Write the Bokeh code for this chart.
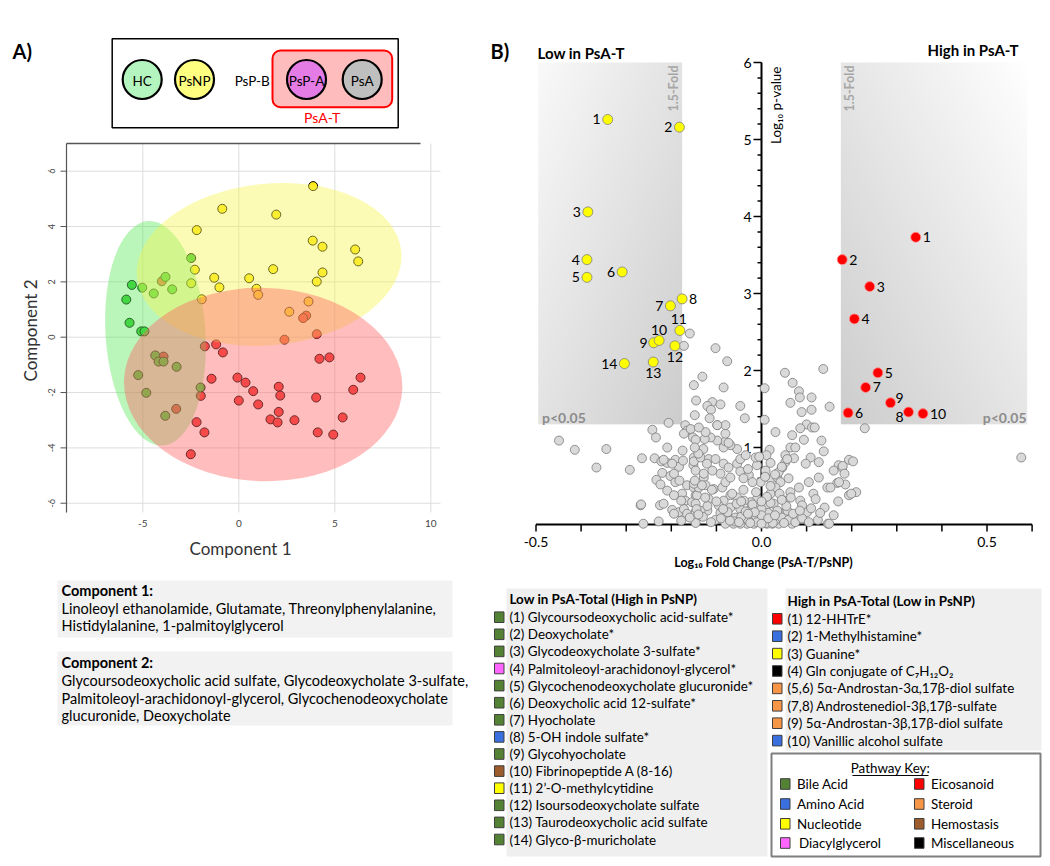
import numpy as np
from bokeh.plotting import figure
from bokeh.layouts import row, column
from bokeh.models import Range1d, BoxAnnotation
from bokeh.core.properties import value
from bokeh.embed import file_html
from bokeh.resources import INLINE

FONT = "Lato"

# ---------------- data : panel A ----------------
group_names = ["HC", "PsNP", "PsP-A", "PsA"]
group_colors = ["#b4f5bf", "#ffff80", "#e57ce5", "#bfbfbf"]

hc_x = [-2.48, -3.82, -5.57, -5.03, -3.47, -4.43, -5.86, -5.69, -5.08, -4.91,
        -4.35, -4.18, -3.92, -3.24, -5.24, -4.82, -1.99, -3.83]
hc_y = [2.86, 2.18, 1.89, 1.79, 1.73, 1.58, 1.36, 0.52, 0.21, 0.21,
        -0.66, -0.88, -0.88, -1.07, -1.37, -2.01, -1.82, -2.84]
psnp_x = [3.87, -0.86, 1.95, -2.19, 3.85, 4.36, 6.06, 6.22, 1.79, 4.36, 4.06,
          -2.29, -2.48, -1.28, -1.01, 0.54, 0.92, 1.01, -1.93, 3.63, 2.63]
psnp_y = [5.46, 4.64, 4.43, 3.87, 3.49, 3.27, 3.17, 2.74, 2.46, 2.34, 2.01,
          2.44, 1.95, 2.15, 1.80, 2.13, 1.75, 1.53, 1.37, 1.29, 0.92]
psat_x = [-4.01, 3.51, 3.35, 4.06, 2.38, -1.77, -1.18, -0.83, -3.92, 4.20,
          4.72, -1.42, -0.07, 0.35, 0.75, 2.08, 2.16, -1.98, 4.03, 6.34,
          5.96, 0.00, 1.01, -3.26, 2.08, 1.65, 2.02, 2.90, 5.41, -2.20,
          -1.79, 4.11, 4.92, -2.50]
psat_y = [2.02, 0.78, 0.69, 0.11, -0.09, -0.33, -0.26, -0.55, -0.70, -0.78,
          -0.73, -1.50, -1.46, -1.64, -1.95, -1.79, -2.11, -2.12, -2.18, -1.46,
          -1.90, -2.29, -2.43, -2.59, -2.70, -2.97, -3.08, -3.00, -2.90, -3.07,
          -3.44, -3.44, -3.52, -4.23]

# confidence ellipses (HC, PsNP, PsA-T)
ell_x = [-4.34, 1.58, 1.27]
ell_y = [0.14, 2.63, -1.71]
ell_w = [5.2, 13.84, 14.5]
ell_h = [8.13, 5.84, 6.99]
ell_angle = [0.066, 0.10, -0.03]

pca_x_ticks = [-5, 0, 5, 10]
pca_y_ticks = [-6, -4, -2, 0, 2, 4, 6]

comp1_lines = ["Linoleoyl ethanolamide, Glutamate, Threonylphenylalanine,",
               "Histidylalanine, 1-palmitoylglycerol"]
comp2_lines = ["Glycoursodeoxycholic acid sulfate, Glycodeoxycholate 3-sulfate,",
               "Palmitoleoyl-arachidonoyl-glycerol, Glycochenodeoxycholate",
               "glucuronide, Deoxycholate"]

# ---------------- data : panel B ----------------
low_x = [-0.341, -0.182, -0.385, -0.387, -0.387, -0.309, -0.202, -0.176,
         -0.239, -0.227, -0.181, -0.192, -0.240, -0.304]
low_y = [5.26, 5.16, 4.06, 3.44, 3.21, 3.28, 2.84, 2.93,
         2.36, 2.39, 2.52, 2.32, 2.11, 2.09]
low_labels = [str(i) for i in range(1, 15)]

high_x = [0.342, 0.179, 0.240, 0.206, 0.258, 0.192, 0.231, 0.326, 0.286, 0.358]
high_y = [3.73, 3.44, 3.09, 2.67, 1.97, 1.45, 1.78, 1.46, 1.58, 1.44]
high_labels = [str(i) for i in range(1, 11)]

other_x = [
    -0.150, -0.145, -0.148, -0.206, -0.169, -0.165, -0.172, -0.157, -0.152, -0.242,
    -0.234, -0.449, -0.414, -0.344, -0.209, -0.175, -0.366, -0.292, -0.265, -0.237,
    -0.222, -0.209, -0.191, -0.183, -0.220, -0.233, -0.224, -0.202, -0.191, -0.165,
    -0.176, -0.169, -0.154, -0.150, -0.146, -0.268, -0.225, -0.217, -0.198, -0.183,
    -0.172, -0.194, -0.165, -0.146, -0.262, -0.228, -0.146, -0.150, -0.151,
    -0.159, -0.172, -0.102, -0.076, -0.131, -0.084, -0.109, -0.120, -0.112, -0.091,
    -0.047, -0.037, -0.115, -0.098, 0.007, 0.007, 0.031,
    0.052, 0.069, 0.083, 0.085, 0.064, 0.111, 0.111, 0.089, 0.137, 0.151,
    0.100, 0.112, 0.118, 0.086, 0.068, 0.094, 0.133, 0.138, 0.064, 0.075,
    0.053, 0.072, 0.109, 0.127, 0.098, 0.194, 0.203, 0.171, 0.179, 0.160,
    0.146, 0.168, 0.186, 0.194, 0.210, 0.147, 0.101, 0.127, 0.105, 0.083,
    0.064, 0.086, 0.052, 0.057, 0.079, 0.068, 0.038, 0.024, 0.012, -0.017,
    -0.032, -0.047, -0.062, -0.080, -0.102,
    -0.143, -0.139, -0.117, -0.120, -0.146, -0.106, -0.087, -0.080, -0.069, -0.091,
    -0.109, -0.128, -0.146, -0.150, -0.135, -0.117, -0.102, -0.084, -0.073, -0.054,
    -0.047, -0.035, -0.054, -0.069, -0.084, -0.080, -0.098, -0.113, -0.126, -0.146,
    -0.080, -0.073, -0.080, -0.098, -0.124, -0.139, -0.129, -0.047, -0.028, -0.010,
    -0.013, 0.018, 0.011, 0.009, -0.002, 0.020, 0.035, 0.042, 0.053, 0.057,
    0.046, 0.038, 0.031, 0.020, 0.009, -0.010, -0.024, -0.039, -0.054, -0.069,
    -0.084, -0.095, -0.069, -0.047, -0.028, -0.010, 0.009, 0.027, 0.038, 0.020,
    -0.002, -0.021, -0.039, -0.058, -0.076, -0.091, -0.135, -0.150, -0.124,
    0.229, 0.576, 0.199, 0.180, 0.184, 0.172, 0.153, 0.150,
    -0.267, -0.217, -0.198, -0.174, -0.194, -0.182, -0.209, -0.194, -0.178, -0.178,
    -0.159, -0.144, -0.132, -0.148, -0.128, -0.121, -0.140, -0.148,
    -0.005, 0.005, -0.015, 0.015, -0.030, 0.030, -0.045, 0.045, 0.000, -0.020,
    0.020, 0.060, -0.060, 0.010, -0.010, 0.025, -0.025, 0.050, -0.050, 0.075,
    -0.070, 0.035, -0.035, 0.000, 0.012, -0.012, 0.055, -0.055, 0.070, -0.075,
    0.090, -0.090, 0.105, -0.112, 0.110, -0.120, 0.125, -0.130, 0.040, -0.040,
    0.020, -0.020, 0.065, -0.065, 0.090, -0.100, 0.115, -0.110, 0.030, -0.030,
    0.008, 0.045, -0.005, 0.020, -0.040, 0.060, 0.140, 0.160, -0.125, 0.120,
    -0.085, 0.085, 0.000, -0.045, 0.045, 0.015, -0.015, 0.030, -0.030, 0.000,
    0.130, -0.140, 0.170]
other_y = [
    1.81, 1.61, 1.42, 1.32, 1.29, 1.22, 1.18, 1.24, 1.13, 1.23,
    1.13, 1.09, 0.97, 0.98, 1.00, 0.96, 0.74, 0.71, 0.86, 0.86,
    0.82, 0.80, 0.84, 0.75, 0.67, 0.58, 0.52, 0.63, 0.55, 0.51,
    0.40, 0.31, 0.29, 0.48, 0.38, 0.25, 0.25, 0.27, 0.19, 0.16,
    0.20, 0.14, 0.14, 0.16, 0.01, 0.04, 0.02, 0.87, 0.77,
    2.48, 2.32, 2.29, 2.12, 1.92, 1.78, 1.59, 1.54, 1.49, 1.56,
    1.54, 1.38, 1.38, 1.29, 1.77, 1.36, 1.20,
    1.97, 1.84, 1.73, 1.65, 1.58, 1.65, 1.49, 1.46, 2.02, 1.53,
    1.30, 1.26, 1.26, 1.25, 1.16, 1.10, 1.09, 0.95, 1.00, 1.00,
    0.90, 0.86, 0.87, 0.81, 0.79, 0.84, 0.82, 0.77, 0.74, 0.70,
    0.48, 0.54, 0.52, 0.38, 0.42, 0.01, 0.16, 0.61, 0.55, 0.48,
    0.42, 0.31, 0.31, 0.18, 0.12, 0.01, 0.01, 0.01, 0.01, 0.01,
    0.01, 0.01, 0.01, 0.01, 0.06,
    0.38, 0.48, 0.33, 0.18, 0.27, 0.46, 0.48, 0.55, 0.61, 0.66,
    0.70, 0.61, 0.70, 0.82, 0.87, 0.85, 0.85, 0.79, 0.74, 0.79,
    0.85, 0.90, 0.98, 1.03, 1.00, 1.08, 1.09, 1.13, 1.11, 1.10,
    1.18, 1.06, 1.29, 1.29, 1.20, 1.26, 0.98, 0.69, 0.64, 0.77,
    0.87, 0.97, 0.90, 0.70, 0.55, 0.59, 0.61, 0.55, 0.81, 0.85,
    0.74, 0.68, 0.48, 0.40, 0.33, 0.33, 0.29, 0.31, 0.35, 0.38,
    0.31, 0.25, 0.22, 0.20, 0.18, 0.22, 0.22, 0.27, 0.16, 0.12,
    0.14, 0.09, 0.12, 0.09, 0.12, 0.15, 0.18, 0.53, 0.51,
    1.25, 0.87, 0.40, 0.76, 0.66, 0.55, 0.48, 0.01,
    0.26, 0.84, 0.79, 0.83, 0.66, 0.57, 0.44, 0.38, 0.31, 0.05,
    0.09, 0.20, 0.51, 0.57, 0.66, 0.79, 0.92, 1.00,
    0.05, 0.08, 0.12, 0.15, 0.06, 0.05, 0.10, 0.09, 0.20, 0.26,
    0.28, 0.06, 0.04, 0.02, 0.03, 0.02, 0.02, 0.02, 0.03, 0.03,
    0.05, 0.18, 0.17, 0.12, 0.36, 0.42, 0.24, 0.27, 0.14, 0.16,
    0.08, 0.08, 0.03, 0.03, 0.21, 0.24, 0.06, 0.10, 0.40, 0.45,
    0.50, 0.55, 0.35, 0.40, 0.25, 0.30, 0.40, 0.45, 0.65, 0.72,
    0.62, 0.75, 0.88, 0.80, 0.60, 0.60, 0.22, 0.12, 0.35, 0.33,
    0.20, 0.18, 0.30, 0.30, 0.32, 0.08, 0.16, 0.12, 0.14, 0.01,
    0.15, 0.13, 0.30]

fold_threshold = 0.176      # log10(1.5)
p_threshold = 1.301         # -log10(0.05)
vx_ticks = [-0.5, 0.0, 0.5]
vy_ticks = [1, 2, 3, 4, 5, 6]

low_names = ["(1) Glycoursodeoxycholic acid-sulfate*", "(2) Deoxycholate*",
             "(3) Glycodeoxycholate 3-sulfate*", "(4) Palmitoleoyl-arachidonoyl-glycerol*",
             "(5) Glycochenodeoxycholate glucuronide*", "(6) Deoxycholic acid 12-sulfate*",
             "(7) Hyocholate", "(8) 5-OH indole sulfate*", "(9) Glycohyocholate",
             "(10) Fibrinopeptide A (8-16)", "(11) 2\u2019-O-methylcytidine",
             "(12) Isoursodeoxycholate sulfate", "(13) Taurodeoxycholic acid sulfate",
             "(14) Glyco-\u03b2-muricholate"]
low_pathways = ["Bile Acid", "Bile Acid", "Bile Acid", "Diacylglycerol", "Bile Acid",
                "Bile Acid", "Bile Acid", "Amino Acid", "Bile Acid", "Hemostasis",
                "Nucleotide", "Bile Acid", "Bile Acid", "Bile Acid"]
high_names = ["(1) 12-HHTrE*", "(2) 1-Methylhistamine*", "(3) Guanine*",
              "(4) Gln conjugate of C\u2087H\u2081\u2082O\u2082",
              "(5,6) 5\u03b1-Androstan-3\u03b1,17\u03b2-diol sulfate",
              "(7,8) Androstenediol-3\u03b2,17\u03b2-sulfate",
              "(9) 5\u03b1-Androstan-3\u03b2,17\u03b2-diol sulfate",
              "(10) Vanillic alcohol sulfate"]
high_pathways = ["Eicosanoid", "Amino Acid", "Nucleotide", "Miscellaneous",
                 "Steroid", "Steroid", "Steroid", "Amino Acid"]
pathway_names = ["Bile Acid", "Amino Acid", "Nucleotide", "Diacylglycerol",
                 "Eicosanoid", "Steroid", "Hemostasis", "Miscellaneous"]
pathway_colors = ["#548235", "#3a6fdf", "#ffff00", "#ff66ff",
                  "#ff0000", "#f79646", "#9c5c2c", "#000000"]
pw_color = dict(zip(pathway_names, pathway_colors))

# page geometry (pixels)
W_LEFT, W_RIGHT = 470, 578
H_TOP, H_PCA, H_TEXT = 135, 425, 304
H_VOLC, H_LEG = 575, 289


# ---------------- helpers ----------------
def canvas(w, h, xr, yr):
    p = figure(width=w, height=h, x_range=Range1d(*xr), y_range=Range1d(*yr),
               toolbar_location=None, output_backend="svg", min_border=0,
               x_axis_location=None, y_axis_location=None, title=None)
    p.grid.visible = False
    p.outline_line_color = None
    return p


def txt(p, x, y, t, size="13px", style="normal", align="left", color="#000000",
        baseline="middle", angle=0.0):
    xs = list(x) if isinstance(x, (list, tuple, np.ndarray)) else [x]
    ys = list(y) if isinstance(y, (list, tuple, np.ndarray)) else [y]
    ts = list(t) if isinstance(t, (list, tuple)) else [t]
    n = max(len(xs), len(ys), len(ts))
    if len(xs) == 1:
        xs = xs * n
    if len(ys) == 1:
        ys = ys * n
    p.text(x=xs, y=ys, text=ts, text_font=value(FONT), text_font_size=size,
           text_font_style=style, text_align=align, text_baseline=baseline,
           text_color=color, angle=angle)


# ---------------- panel A : group key (pixel canvas) ----------------
ptop = canvas(W_LEFT, H_TOP, (0, W_LEFT), (H_TOP, 0))
txt(ptop, 12, 50, "A)", size="20px", style="bold")
ptop.quad(left=[111.7], right=[397.7], top=[38.3], bottom=[127.3],
          fill_color=None, line_color="black", line_width=1.5)
ptop.add_layout(BoxAnnotation(left=272, right=391.7, top=50, bottom=106.7,
                              fill_color="#ffbcbc", fill_alpha=1.0, line_color="#ff0000",
                              line_alpha=1.0, line_width=2, border_radius=8,
                              level="underlay"))
cx = [141.7, 194.0, 306.0, 361.7]
ptop.circle(x=cx, y=[79] * 4, radius=19.5, fill_color=group_colors,
            line_color="black", line_width=2.2)
txt(ptop, cx, [80] * 4, group_names, size="13.5px", align="center")
txt(ptop, 251.7, 80, "PsP-B", size="13.5px", align="center")
txt(ptop, 321.7, 116.5, "PsA-T", size="14px", align="center", color="#ff0000")


# ---------------- panel A : PCA scores ----------------
def ax_(X):
    return (X - 238.3) / 19.2


def ay_(Y):
    return (336.7 - Y) / 27.67


ppca = canvas(W_LEFT, H_PCA, (ax_(0), ax_(W_LEFT)), (ay_(H_TOP + H_PCA), ay_(H_TOP)))
fx0, fx1, fy0, fy1 = ax_(66), ax_(440), ay_(512), ay_(143)
ppca.segment(x0=pca_x_ticks, y0=[fy0] * 4, x1=pca_x_ticks, y1=[fy1] * 4,
             line_color="#dddddd", line_width=1)
ppca.segment(x0=[fx0] * 7, y0=pca_y_ticks, x1=[fx1] * 7, y1=pca_y_ticks,
             line_color="#dddddd", line_width=1)
ppca.scatter(psat_x, psat_y, size=9, fill_color="#f03a3a", line_color="black", line_width=1)
ppca.scatter(psnp_x, psnp_y, size=9, fill_color="#ffe81a", line_color="black", line_width=1)
ppca.scatter(hc_x, hc_y, size=9, fill_color="#35cc35", line_color="black", line_width=1)
ell_colors = ["#5ae65a", "#f5f550", "#ff6262"]
for i in range(3):
    ppca.ellipse(x=[ell_x[i]], y=[ell_y[i]], width=[ell_w[i]], height=[ell_h[i]],
                 angle=[ell_angle[i]], fill_color=ell_colors[i], fill_alpha=0.42,
                 line_color=None)
ppca.segment(x0=[fx0], y0=[fy0], x1=[fx0], y1=[fy1], line_color="#555555", line_width=1.2)
ppca.segment(x0=[fx0], y0=[fy1], x1=[ax_(420)], y1=[fy1], line_color="#555555", line_width=1.5)
ppca.segment(x0=[fx0 - 6 / 19.2] * 7, y0=pca_y_ticks, x1=[fx0] * 7, y1=pca_y_ticks,
             line_color="#555555", line_width=1)
txt(ppca, [ax_(51)] * 7, pca_y_ticks, [str(t) for t in pca_y_ticks], size="9px",
    align="center", color="#444444", angle=np.pi / 2)
txt(ppca, pca_x_ticks, [ay_(523)] * 4, [str(t) for t in pca_x_ticks], size="10px",
    align="center", color="#444444")
txt(ppca, ax_(240), ay_(548), "Component 1", size="17px", align="center", color="#333333")
txt(ppca, ax_(30), ay_(330), "Component 2", size="17px", align="center", color="#333333",
    angle=np.pi / 2)

# ---------------- panel A : loadings text ----------------
y_text0 = H_TOP + H_PCA
ptext = canvas(W_LEFT, H_TEXT, (0, W_LEFT), (y_text0 + H_TEXT, y_text0))
ptext.quad(left=[57, 57], right=[452, 452], top=[580, 651], bottom=[637, 725],
           fill_color="#f2f2f2", line_color=None)
txt(ptext, 61, 590, "Component 1:", size="14.5px", style="bold")
txt(ptext, [61], [607.5, 625], comp1_lines, size="14.5px")
txt(ptext, 61, 662, "Component 2:", size="14.5px", style="bold")
txt(ptext, [61], [680, 697.5, 715], comp2_lines, size="14.5px")


# ---------------- panel B : volcano ----------------
def vx(px):
    return (px - 761.0) / 451.0


def vy(py):
    return (524.0 - py) / 77.0


pv = canvas(W_RIGHT, H_VOLC, (vx(W_LEFT), vx(W_LEFT + W_RIGHT)), (vy(H_VOLC), vy(0)))


def grad(kind, n=80, m=80):
    u = np.linspace(0, 1, m)[None, :]
    v = np.linspace(0, 1, n)[:, None]
    if kind == "left":
        t = (u + (1 - v)) / 2.0
        g = 249 - t * (249 - 205)
    else:
        t = ((1 - u) + (1 - v)) / 2.0
        g = 255 - t * (255 - 205)
    img = np.empty((n, m), dtype=np.uint32)
    view = img.view(dtype=np.uint8).reshape((n, m, 4))
    view[..., 0] = g
    view[..., 1] = g
    view[..., 2] = g
    view[..., 3] = 255
    return img


top_y = 6.0
left_edge = -0.495
right_edge = 0.589
pv.image_rgba(image=[grad("left")], x=left_edge, y=p_threshold,
              dw=-fold_threshold - left_edge, dh=top_y - p_threshold)
pv.image_rgba(image=[grad("right")], x=fold_threshold, y=p_threshold,
              dw=right_edge - fold_threshold, dh=top_y - p_threshold)

xt = [round(-0.5 + 0.1 * i, 2) for i in range(12)]
pv.segment(x0=[-0.5], y0=[0], x1=[0.6], y1=[0], line_color="black", line_width=2)
pv.segment(x0=xt, y0=[0] * len(xt), x1=xt, y1=[-7 / 77.0] * len(xt),
           line_color="black", line_width=1.5)
pv.segment(x0=[0], y0=[0], x1=[0], y1=[6], line_color="black", line_width=2)
yminor = [round(0.2 * i, 1) for i in range(1, 31) if (i % 5) != 0]
pv.segment(x0=[-4 / 451.0] * len(yminor), y0=yminor, x1=[0] * len(yminor), y1=yminor,
           line_color="black", line_width=1.5)
pv.segment(x0=[-8 / 451.0] * len(vy_ticks), y0=vy_ticks, x1=[0] * len(vy_ticks), y1=vy_ticks,
           line_color="black", line_width=1.5)
txt(pv, vx_ticks, [vy(541.5)], ["-0.5", "0.0", "0.5"], size="14px", align="center")
txt(pv, [vx(751)], vy_ticks, [str(t) for t in vy_ticks], size="14px", align="right")

pv.scatter(other_x, other_y, size=9, fill_color="#d9d9d9", line_color="#7a7a7a", line_width=0.8)
pv.scatter(low_x, low_y, size=10, fill_color="#ffff00", line_color="#7f7f7f", line_width=0.8)
pv.scatter(high_x, high_y, size=10, fill_color="#ff0000", line_color="#ff9090", line_width=0.8)

# point labels: (dx px, dy px, align)
low_off = [(-7, 0, "right"), (-7, 0, "right"), (-7, 0, "right"), (-7, 0, "right"),
           (-7, 0, "right"), (-7, 0, "right"), (-7, 0, "right"), (7, 0, "left"),
           (-6, 0, "right"), (0, 10, "center"), (-1, 11, "center"), (0, -11, "center"),
           (0, -11, "center"), (-7, 0, "right")]
high_off = [(7, 0, "left")] * 7 + [(-5, -5, "right"), (5, 5, "left"), (7, 0, "left")]
for xs, ys, labs, offs in ((low_x, low_y, low_labels, low_off),
                           (high_x, high_y, high_labels, high_off)):
    for xi, yi, lab, (dx, dy, al) in zip(xs, ys, labs, offs):
        txt(pv, xi + dx / 451.0, yi + dy / 77.0, lab, size="14px", align=al)

txt(pv, vx(490), vy(50), "B)", size="20px", style="bold")
txt(pv, vx(537), vy(52), "Low in PsA-T", size="15px", style="bold")
txt(pv, vx(1018), vy(49.5), "High in PsA-T", size="15px", style="bold", align="right")
txt(pv, [vx(673), vx(849)], [vy(65)], ["1.5-Fold", "1.5-Fold"], size="12.5px",
    style="bold", align="right", color="#a6a6a6", angle=np.pi / 2)
txt(pv, vx(541.5), vy(417), "p<0.05", size="14px", style="bold", color="#8c8c8c")
txt(pv, vx(1026), vy(417), "p<0.05", size="14px", style="bold", color="#8c8c8c", align="right")
txt(pv, vx(775.5), vy(66), "Log\u2081\u2080 p-value", size="13.5px", align="right",
    angle=np.pi / 2)
txt(pv, vx(763), vy(562), "Log\u2081\u2080 Fold Change (PsA-T/PsNP)", size="12.5px",
    style="bold", align="center")

# ---------------- panel B : legends ----------------
pl = canvas(W_RIGHT, H_LEG, (W_LEFT, W_LEFT + W_RIGHT), (H_VOLC + H_LEG, H_VOLC))
pl.quad(left=[506], right=[767], top=[588], bottom=[856], fill_color="#efefef", line_color=None)
pl.quad(left=[785], right=[1041], top=[588], bottom=[750], fill_color="#efefef", line_color=None)
txt(pl, 509, 598.5, "Low in PsA-Total (High in PsNP)", size="13.4px", style="bold")
ly = [616.7 + 17.1 * i for i in range(len(low_names))]
txt(pl, [509], ly, low_names, size="13.4px")
pl.quad(left=[494] * len(ly), right=[503.5] * len(ly), top=[y - 5.3 for y in ly],
        bottom=[y + 5.3 for y in ly], fill_color=[pw_color[k] for k in low_pathways],
        line_color="#3f3f3f", line_width=1)
txt(pl, 787, 600, "High in PsA-Total (Low in PsNP)", size="13.4px", style="bold")
hy = [618.3 + 17.4 * i for i in range(len(high_names))]
txt(pl, [787], hy, high_names, size="13.4px")
pl.quad(left=[772] * len(hy), right=[781.5] * len(hy), top=[y - 5.3 for y in hy],
        bottom=[y + 5.3 for y in hy], fill_color=[pw_color[k] for k in high_pathways],
        line_color="#3f3f3f", line_width=1)

pl.quad(left=[771], right=[1040], top=[753], bottom=[856], fill_color="white",
        line_color="#7f7f7f", line_width=2)
txt(pl, 890, 767, "Pathway Key:", size="13.4px", align="center")
pl.segment(x0=[852], y0=[775], x1=[928], y1=[775], line_color="black", line_width=1)
rows_y = [783.5, 803.5, 823.3, 842.5]
kx = [780] * 4 + [914] * 4
ky = rows_y + rows_y
pl.quad(left=kx, right=[k + 9.5 for k in kx], top=[y - 5.3 for y in ky],
        bottom=[y + 5.3 for y in ky], fill_color=pathway_colors,
        line_color="#3f3f3f", line_width=1)
txt(pl, [796.5] * 3 + [798.5] + [930.5] * 4, ky, pathway_names, size="13.4px")

layout = row(column(ptop, ppca, ptext), column(pv, pl))
open("out.html", "w").write(file_html(layout, INLINE))
